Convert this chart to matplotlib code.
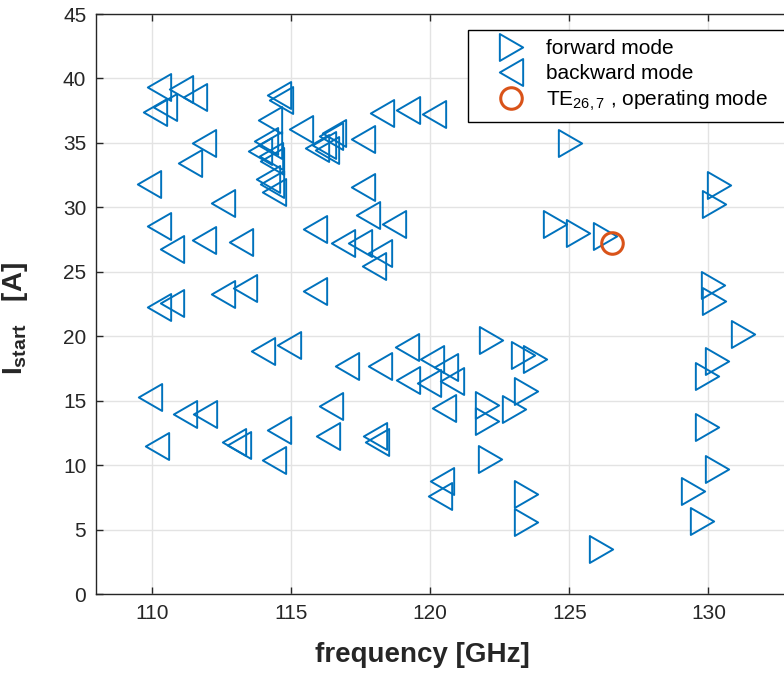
import matplotlib
matplotlib.use('Agg')
import matplotlib.pyplot as plt
from matplotlib.path import Path
from matplotlib.markers import MarkerStyle

# backward modes (left-pointing triangles)
back_freq = [110.27, 111.07, 111.55, 110.12, 110.47, 111.87, 111.39, 109.90, 112.57, 110.27,
             110.74, 111.87, 113.20, 110.27, 110.72, 112.57, 113.36, 115.87, 115.87, 109.94,
             110.18, 111.20, 111.92, 112.96, 113.14, 114.57, 114.41, 113.99, 114.93, 117.02,
             118.20, 119.16, 119.20, 116.43, 116.35, 118.02, 118.09, 120.43, 120.37, 120.07,
             120.57, 119.96, 120.79, 120.49, 114.57, 114.65, 114.25, 114.10, 114.25, 113.89,
             114.29, 114.33, 114.19, 114.33, 114.40, 115.35, 115.95, 116.20, 116.31, 116.45,
             116.55, 117.60, 118.27, 119.20, 120.13, 117.60, 117.78, 118.69, 116.88, 117.50,
             118.20, 117.98]
back_current = [39.37, 39.16, 38.59, 37.43, 37.82, 35.02, 33.41, 31.83, 30.30, 28.59,
                26.78, 27.45, 27.30, 22.28, 22.59, 23.31, 23.75, 23.54, 28.34, 15.25,
                11.52, 13.99, 13.99, 11.76, 11.58, 12.74, 10.41, 18.83, 19.35, 17.66,
                17.66, 19.14, 16.63, 14.61, 12.22, 12.22, 11.83, 8.73, 7.64, 18.24,
                17.61, 16.37, 16.50, 14.43, 38.70, 38.30, 36.80, 35.15, 34.80, 34.40,
                34.00, 33.60, 32.20, 31.80, 31.20, 36.10, 34.63, 34.80, 34.45, 35.50,
                35.80, 35.33, 37.35, 37.55, 37.22, 31.60, 29.37, 28.67, 27.20, 27.20,
                26.47, 25.43]

# forward modes (right-pointing triangles)
fwd_freq = [122.18, 123.35, 123.76, 123.44, 122.05, 122.05, 123.02, 122.16, 123.43, 123.43,
            126.14, 125.02, 124.47, 125.33, 126.29, 130.36, 130.19, 130.16, 130.19, 131.25,
            130.30, 129.93, 129.93, 130.30, 129.45, 129.76]
fwd_current = [19.74, 18.52, 18.24, 15.77, 14.69, 13.40, 14.32, 10.49, 7.77, 5.57,
               3.50, 35.02, 28.67, 27.97, 27.77, 31.70, 30.28, 23.96, 22.71, 20.20,
               18.10, 16.94, 12.92, 9.71, 8.03, 5.65]

# operating mode
op_freq = [126.54]
op_current = [27.2]

plt.rcParams['font.family'] = ['Liberation Sans', 'DejaVu Sans']
plt.rcParams['mathtext.fontset'] = 'custom'
plt.rcParams['mathtext.rm'] = 'Liberation Sans'
plt.rcParams['mathtext.it'] = 'Liberation Sans:italic'
plt.rcParams['mathtext.bf'] = 'Liberation Sans:bold'

blue = '#0072BD'
orange = '#D95319'
dark = '#262626'

codes = [Path.MOVETO, Path.LINETO, Path.LINETO, Path.CLOSEPOLY]
tri_right = MarkerStyle(Path([(0.433, 0), (-0.433, 0.5), (-0.433, -0.5), (0, 0)], codes), joinstyle='miter')
tri_left = MarkerStyle(Path([(-0.433, 0), (0.433, 0.5), (0.433, -0.5), (0, 0)], codes), joinstyle='miter')

fig = plt.figure(figsize=(7.84, 6.73), dpi=100)
ax = fig.add_axes([96 / 784, 79 / 673, 696 / 784, 580 / 673])

ax.plot(fwd_freq, fwd_current, linestyle='none', marker=tri_right, ms=19.4,
        mfc='none', mec=blue, mew=1.4, label='forward mode')
ax.plot(back_freq, back_current, linestyle='none', marker=tri_left, ms=19.4,
        mfc='none', mec=blue, mew=1.4, label='backward mode')
ax.plot(op_freq, op_current, linestyle='none', marker='o', ms=15.5,
        mfc='none', mec=orange, mew=2.2, label=r'TE$_{26,7}$ , operating mode')

ax.set_xlim(108, 133)
ax.set_ylim(0, 45)
ax.set_xticks([110, 115, 120, 125, 130])
ax.set_yticks(range(0, 46, 5))
ax.set_axisbelow(True)
ax.grid(True, color='#e3e3e3', linewidth=1.0)
for s in ax.spines.values():
    s.set_color(dark)
    s.set_linewidth(1.0)
ax.tick_params(direction='in', length=5, width=1.0, color=dark, labelcolor=dark,
               labelsize=15, top=True, right=True, pad=7)

ax.set_xlabel('frequency [GHz]', fontsize=20, fontweight='bold', color=dark)
ax.xaxis.set_label_coords((422 - 96) / 696, -0.082)
ax.set_ylabel(r'$\mathbf{I_{start}}$   [A]', fontsize=20, fontweight='bold', color=dark)
ax.yaxis.set_label_coords(-0.095, 0.475)

leg = ax.legend(loc='upper left', bbox_to_anchor=(468 / 784, 1 - 124 / 673, 330 / 784, 94 / 673),
                bbox_transform=fig.transFigure, mode='expand', fontsize=15,
                frameon=True, fancybox=False, framealpha=1, edgecolor='black',
                borderpad=0.45, labelspacing=0.27, handlelength=3.2, handletextpad=0.1,
                borderaxespad=0)
leg.get_frame().set_linewidth(1.0)

fig.savefig('out.png', dpi=100)
